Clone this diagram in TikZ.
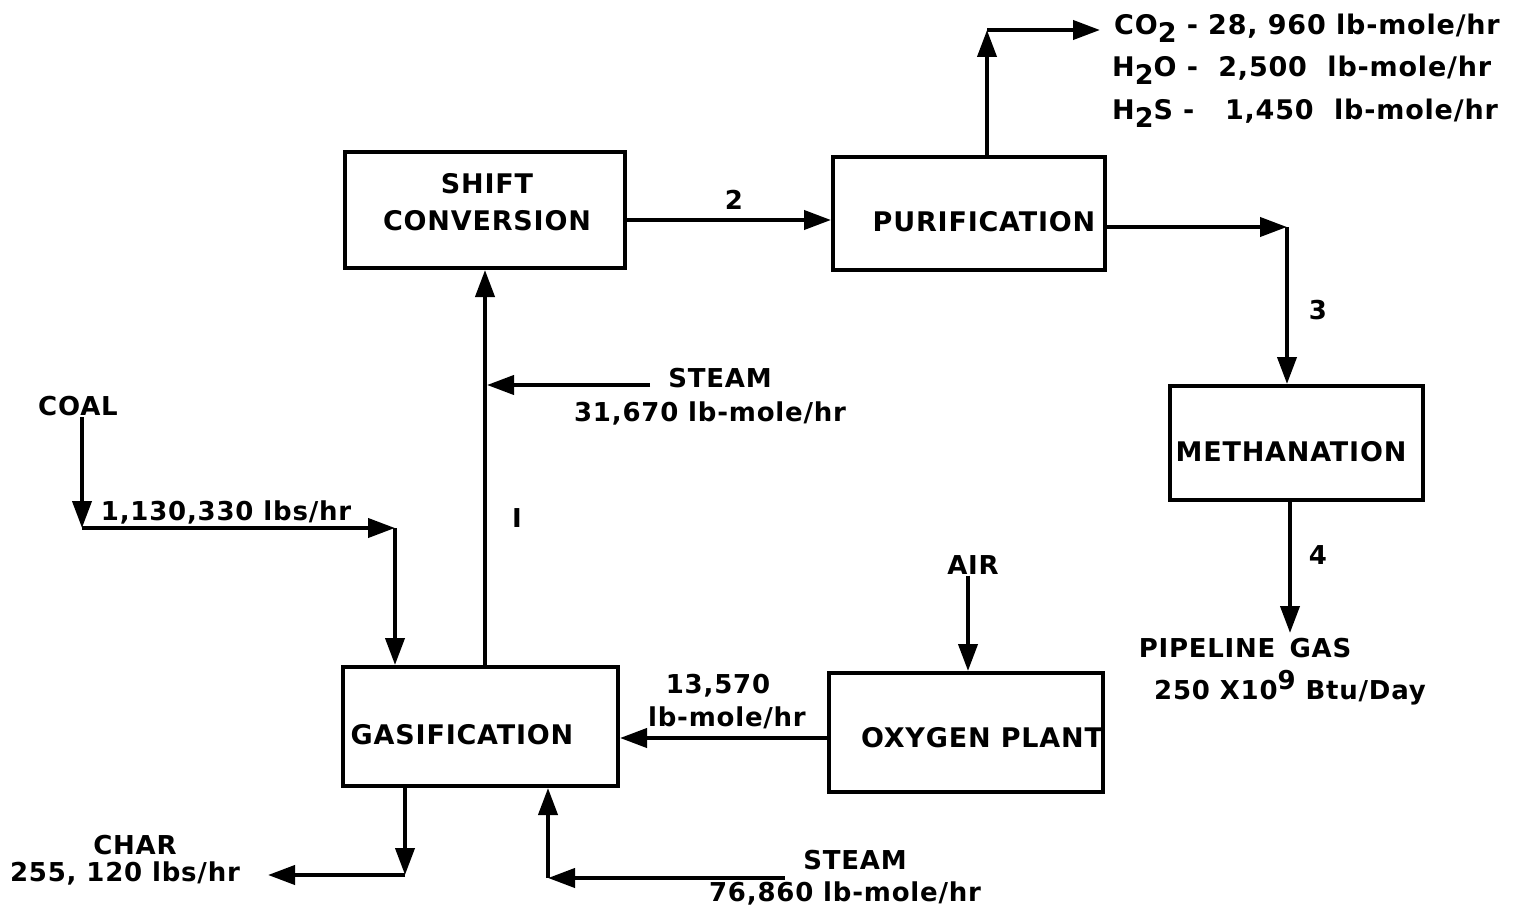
\documentclass[tikz,border=0pt]{standalone}
\usepackage{fontspec}
\setmainfont{DejaVu Sans}[LetterSpace=3]
\usetikzlibrary{arrows.meta}
\newcommand\dnsub[1]{\raisebox{-8pt}{#1}}
\newcommand\upsup[1]{\raisebox{10pt}{#1}}
\begin{document}
\begin{tikzpicture}[x=1pt,y=-1pt]
\tikzset{
 box/.style={draw, line width=4pt, inner sep=0pt},
 arr/.style={line width=4pt, -{Triangle[length=27pt,width=19pt]}},
 txt/.style={font=\bfseries\fontsize{27}{37}\selectfont, inner sep=1pt, align=center},
 lbl/.style={font=\bfseries\fontsize{26}{30}\selectfont, inner sep=1pt, align=center},
 gaslbl/.style={font=\bfseries\fontsize{27}{30}\selectfont, inner sep=1pt, anchor=west}
}
\fill[white] (0,0) rectangle (1516,915);
\useasboundingbox (0,0) rectangle (1516,915);

% boxes
\node[box, minimum width=280pt, minimum height=116pt] (shift) at (485,210) {};
\node[box, minimum width=272pt, minimum height=113pt] (pur) at (969,213.5) {};
\node[box, minimum width=253pt, minimum height=114pt] (meth) at (1296.5,443) {};
\node[box, minimum width=275pt, minimum height=119pt] (gas) at (480.5,726.5) {};
\node[box, minimum width=274pt, minimum height=119pt] (oxy) at (966,732.5) {};

% box texts
\node[txt] (tshift) at (487,202) {SHIFT\\CONVERSION};
\node[txt] (tpur) at (984,222) {PURIFICATION};
\node[txt] (tmeth) at (1291,452) {METHANATION};
\node[txt] (tgas) at (462,735) {GASIFICATION};
\node[txt] (toxy) at (982,738) {OXYGEN PLANT};

% labels
\node[lbl] (n2) at (734,200) {2};
\node[lbl] (n3) at (1318,310) {3};
\node[lbl] (n4) at (1318,555) {4};
\node[lbl] (n1) at (517,518) {I};
\node[gaslbl] (co2) at (1113,28) {CO\dnsub{2} - 28, 960 lb-mole/hr};
\node[gaslbl] (h2o) at (1111,70) {H\dnsub{2}O - \ 2,500 \ lb-mole/hr};
\node[gaslbl] (h2s) at (1111,113) {H\dnsub{2}S - \ \ 1,450 \ lb-mole/hr};
\node[lbl] (steam1) at (720,378) {STEAM};
\node[lbl] (steam1v) at (710,413) {31,670 lb-mole/hr};
\node[lbl] (coal) at (78,406) {COAL};
\node[lbl] (coalv) at (226,512) {1,130,330 lbs/hr};
\node[lbl] (air) at (973,565) {AIR};
\node[lbl] (oxv1) at (718,686) {13,570};
\node[lbl] (oxv2) at (727,718) {lb-mole/hr};
\node[lbl] (char) at (135,845) {CHAR};
\node[lbl] (charv) at (125,873) {255, 120 lbs/hr};
\node[lbl] (steam2) at (855,860) {STEAM};
\node[lbl] (steam2v) at (845,893) {76,860 lb-mole/hr};
\node[lbl] (pipe) at (1245,648) {PIPELINE\hspace{14pt}GAS};
\node[lbl] (pipev) at (1290,688) {250 X10\upsup{9} Btu/Day};

% coordinates
\coordinate (cotop) at (987,30);
\coordinate (coend) at (1100,30);
\coordinate (c3) at (1287,227);
\coordinate (pgend) at (1290,633);
\coordinate (s1start) at (650,385);
\coordinate (s1end) at (487,385);
\coordinate (coalc) at (82,528);
\coordinate (coalc2) at (395,528);
\coordinate (charc) at (405,875);
\coordinate (charend) at (268,875);
\coordinate (s2start) at (785,878);
\coordinate (s2c) at (548,878);

% connectors
\draw[arr] (shift.east |- 0,220) -- (pur.west |- 0,220);
\draw[arr] (pur.north -| cotop) -- (cotop);
\draw[arr] (cotop) -- (coend);
\draw[arr] (pur.east |- c3) -- (c3);
\draw[arr] (c3) -- (meth.north -| c3);
\draw[arr] (meth.south -| pgend) -- (pgend);
\draw[arr] (gas.north -| 485,0) -- (shift.south -| 485,0);
\draw[arr] (s1start) -- (s1end);
\draw[arr] (coal.south -| coalc) -- (coalc);
\draw[arr] (coalc) -- (coalc2);
\draw[arr] (coalc2) -- (gas.north -| coalc2);
\draw[arr] (air.south -| 968,0) -- (oxy.north -| 968,0);
\draw[arr] (oxy.west |- 0,738) -- (gas.east |- 0,738);
\draw[arr] (gas.south -| charc) -- (charc);
\draw[arr] (charc) -- (charend);
\draw[arr] (s2start) -- (s2c);
\draw[arr] (s2c) -- (gas.south -| s2c);
\end{tikzpicture}
\end{document}
